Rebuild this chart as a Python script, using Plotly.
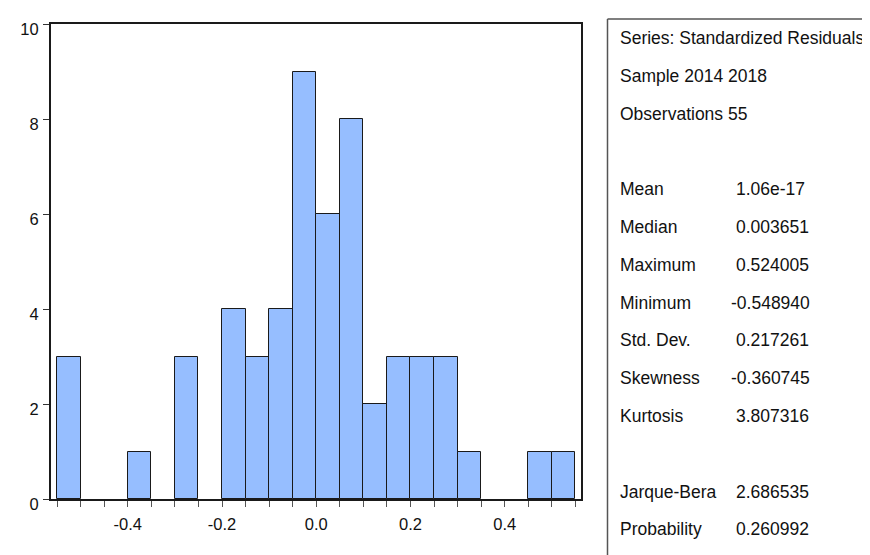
import plotly.graph_objects as go

# ---- data ----
bin_start = -0.55
bin_width = 0.05
counts = [3, 0, 0, 1, 0, 3, 0, 4, 3, 4, 9, 6, 8, 2, 3, 3, 3, 1, 0, 0, 1, 1]
x_tick_vals = [-0.4, -0.2, 0.0, 0.2, 0.4]
x_tick_text = ["-0.4", "-0.2", "0.0", "0.2", "0.4"]
y_tick_vals = [0, 2, 4, 6, 8, 10]

stat_header = ["Series: Standardized Residuals", "Sample 2014 2018", "Observations 55"]
stat_names = ["Mean", "Median", "Maximum", "Minimum", "Std. Dev.", "Skewness", "Kurtosis"]
stat_values = ["1.06e-17", "0.003651", "0.524005", "-0.548940", "0.217261", "-0.360745", "3.807316"]
test_names = ["Jarque-Bera", "Probability"]
test_values = ["2.686535", "0.260992"]

# ---- layout geometry (pixels, page coordinates) ----
W, H = 870, 555
OFF = 8  # default body margin of the page
L, R, T, B = 41, 581, 24, 499

def px_x(p):
    return (p - L) / (R - L)

def px_y(p):
    return (B - p) / (B - T)

centers = [bin_start + bin_width * (i + 0.5) for i in range(len(counts))]
bar_x = [c for c, n in zip(centers, counts) if n > 0]
bar_y = [n for n in counts if n > 0]

FONT = "Liberation Sans, Arial, sans-serif"
STAT_SIZE = 17.5
AXIS_SIZE = 16.5

fig = go.Figure()
fig.add_trace(go.Bar(
    x=bar_x, y=bar_y, width=bin_width,
    marker=dict(color="#96BEFF", line=dict(color="#1a1a1a", width=1)),
    hoverinfo="x+y", showlegend=False,
))

annotations = []
line0 = 38.0
step = 37.8
lines = []
for s in stat_header:
    lines.append((s, None))
lines.append((None, None))
for n, v in zip(stat_names, stat_values):
    lines.append((n, v))
lines.append((None, None))
for n, v in zip(test_names, test_values):
    lines.append((n, v))

for i, (name, val) in enumerate(lines):
    ypx = line0 + i * step
    if name is not None:
        annotations.append(dict(
            text=name, x=px_x(619), y=px_y(ypx), xref="paper", yref="paper",
            xanchor="left", yanchor="middle", showarrow=False,
            font=dict(family=FONT, size=STAT_SIZE, color="#111")))
    if val is not None:
        xv = 732 if val.startswith("-") else 737
        annotations.append(dict(
            text=val, x=px_x(xv), y=px_y(ypx), xref="paper", yref="paper",
            xanchor="left", yanchor="middle", showarrow=False,
            font=dict(family=FONT, size=STAT_SIZE, color="#111")))

shapes = [
    dict(type="line", xref="paper", yref="paper",
         x0=px_x(608), x1=px_x(608), y0=px_y(19), y1=px_y(570),
         line=dict(color="#555", width=1.5)),
    dict(type="line", xref="paper", yref="paper",
         x0=px_x(608), x1=px_x(880), y0=px_y(19), y1=px_y(19),
         line=dict(color="#555", width=1.5)),
]

fig.update_layout(
    width=W - OFF, height=H - OFF, autosize=False,
    margin=dict(l=L - OFF, r=W - R, t=T - OFF, b=H - B, pad=0),
    paper_bgcolor="white", plot_bgcolor="white",
    font=dict(family=FONT, size=AXIS_SIZE, color="#111"),
    bargap=0,
    annotations=annotations,
    shapes=shapes,
    xaxis=dict(
        range=[-0.563, 0.562], showgrid=False, zeroline=False,
        showline=True, mirror=True, linecolor="#1a1a1a", linewidth=2,
        tickmode="array", tickvals=x_tick_vals, ticktext=x_tick_text,
        ticks="outside", ticklen=6, tickcolor="#555", tickwidth=1,
        minor=dict(dtick=bin_width, tick0=0, ticks="outside", ticklen=6,
                   tickcolor="#555", tickwidth=1, showgrid=False),
        tickfont=dict(size=AXIS_SIZE),
        ticklabelstandoff=3,
    ),
    yaxis=dict(
        range=[0, 10], showgrid=False, zeroline=False,
        showline=True, mirror=True, linecolor="#1a1a1a", linewidth=2,
        tickmode="array", tickvals=y_tick_vals,
        ticks="outside", ticklen=6, tickcolor="#333", tickwidth=1,
        ticklabelshift=5, ticklabelstandoff=1,
        tickfont=dict(size=AXIS_SIZE),
    ),
)

fig.write_html("out.html")
